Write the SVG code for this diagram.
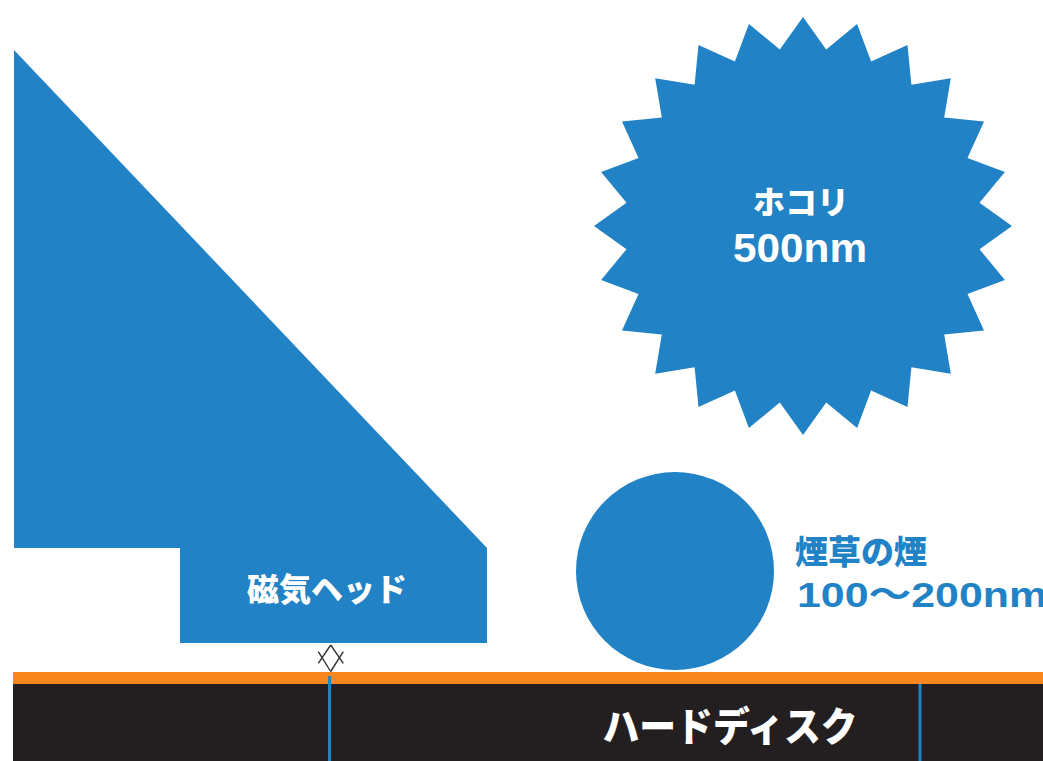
<svg xmlns="http://www.w3.org/2000/svg" width="1043" height="761" viewBox="0 0 1043 761">
  <style>
    .blue { fill: #2182C5; }
    .jp { font-family: "Noto Sans CJK JP", "Liberation Sans", sans-serif; font-weight: 900; }
    .lat { font-family: "Liberation Sans", "Noto Sans CJK JP", sans-serif; font-weight: bold; }
    .white { fill: #FFFFFF; }
    .mark { fill: none; stroke: #333333; stroke-width: 1.4; }
    .track { stroke: #2182C5; stroke-width: 3; }
  </style>
  <rect width="1043" height="761" fill="#FFFFFF"/>

  <g id="disk">
    <rect x="13" y="683" width="1030" height="78" fill="#231F20"/>
    <rect x="13" y="672" width="1030" height="12" fill="#F7861E"/>
    <text class="jp white" x="730" y="741" font-size="40" text-anchor="middle" textLength="255" lengthAdjust="spacingAndGlyphs">ハードディスク</text>
  </g>

  <g id="head">
    <polygon class="blue" points="14,50 487,548 487,643 180,643 180,548 14,548"/>
    <text class="jp white" x="327" y="601" font-size="32" text-anchor="middle">磁気ヘッド</text>
  </g>

  <g id="dust">
    <polygon class="blue" points="803,17 826.2,49.5 857.1,24.1 871.1,61.5 907.5,45 911.4,84.8 950.8,78.2 944.2,117.6 984,121.5 967.5,157.9 1004.9,171.9 979.5,202.8 1012,226 979.5,249.2 1004.9,280.1 967.5,294.1 984,330.5 944.2,334.4 950.8,373.8 911.4,367.2 907.5,407 871.1,390.5 857.1,427.9 826.2,402.5 803,435 779.8,402.5 748.9,427.9 734.9,390.5 698.5,407 694.6,367.2 655.2,373.8 661.8,334.4 622,330.5 638.5,294.1 601.1,280.1 626.5,249.2 594,226 626.5,202.8 601.1,171.9 638.5,157.9 622,121.5 661.8,117.6 655.2,78.2 694.6,84.8 698.5,45 734.9,61.5 748.9,24.1 779.8,49.5"/>
    <text class="jp white" x="801" y="214" font-size="32" text-anchor="middle">ホコリ</text>
    <text class="lat white" x="800" y="262" font-size="40" text-anchor="middle" textLength="134" lengthAdjust="spacingAndGlyphs">500nm</text>
  </g>

  <g id="smoke">
    <circle class="blue" cx="675" cy="571" r="99"/>
    <text class="jp" x="795" y="564" font-size="33" fill="#2182C5">煙草の煙</text>
    <text class="lat" x="797" y="607" font-size="35" fill="#2182C5" textLength="250" lengthAdjust="spacingAndGlyphs">100～200nm</text>
  </g>

  <g id="connectors">
    <line class="track" x1="329.5" y1="676" x2="329.5" y2="761"/>
    <line class="track" x1="920" y1="684" x2="920" y2="761"/>
    <g id="gap-mark">
      <line class="mark" x1="330.7" y1="645" x2="343.3" y2="663.3"/>
      <line class="mark" x1="330.7" y1="645" x2="318.3" y2="663.3"/>
      <line class="mark" x1="330.7" y1="671.5" x2="318.3" y2="651.7"/>
      <line class="mark" x1="330.7" y1="671.5" x2="343.3" y2="651.7"/>
    </g>
  </g>
</svg>
